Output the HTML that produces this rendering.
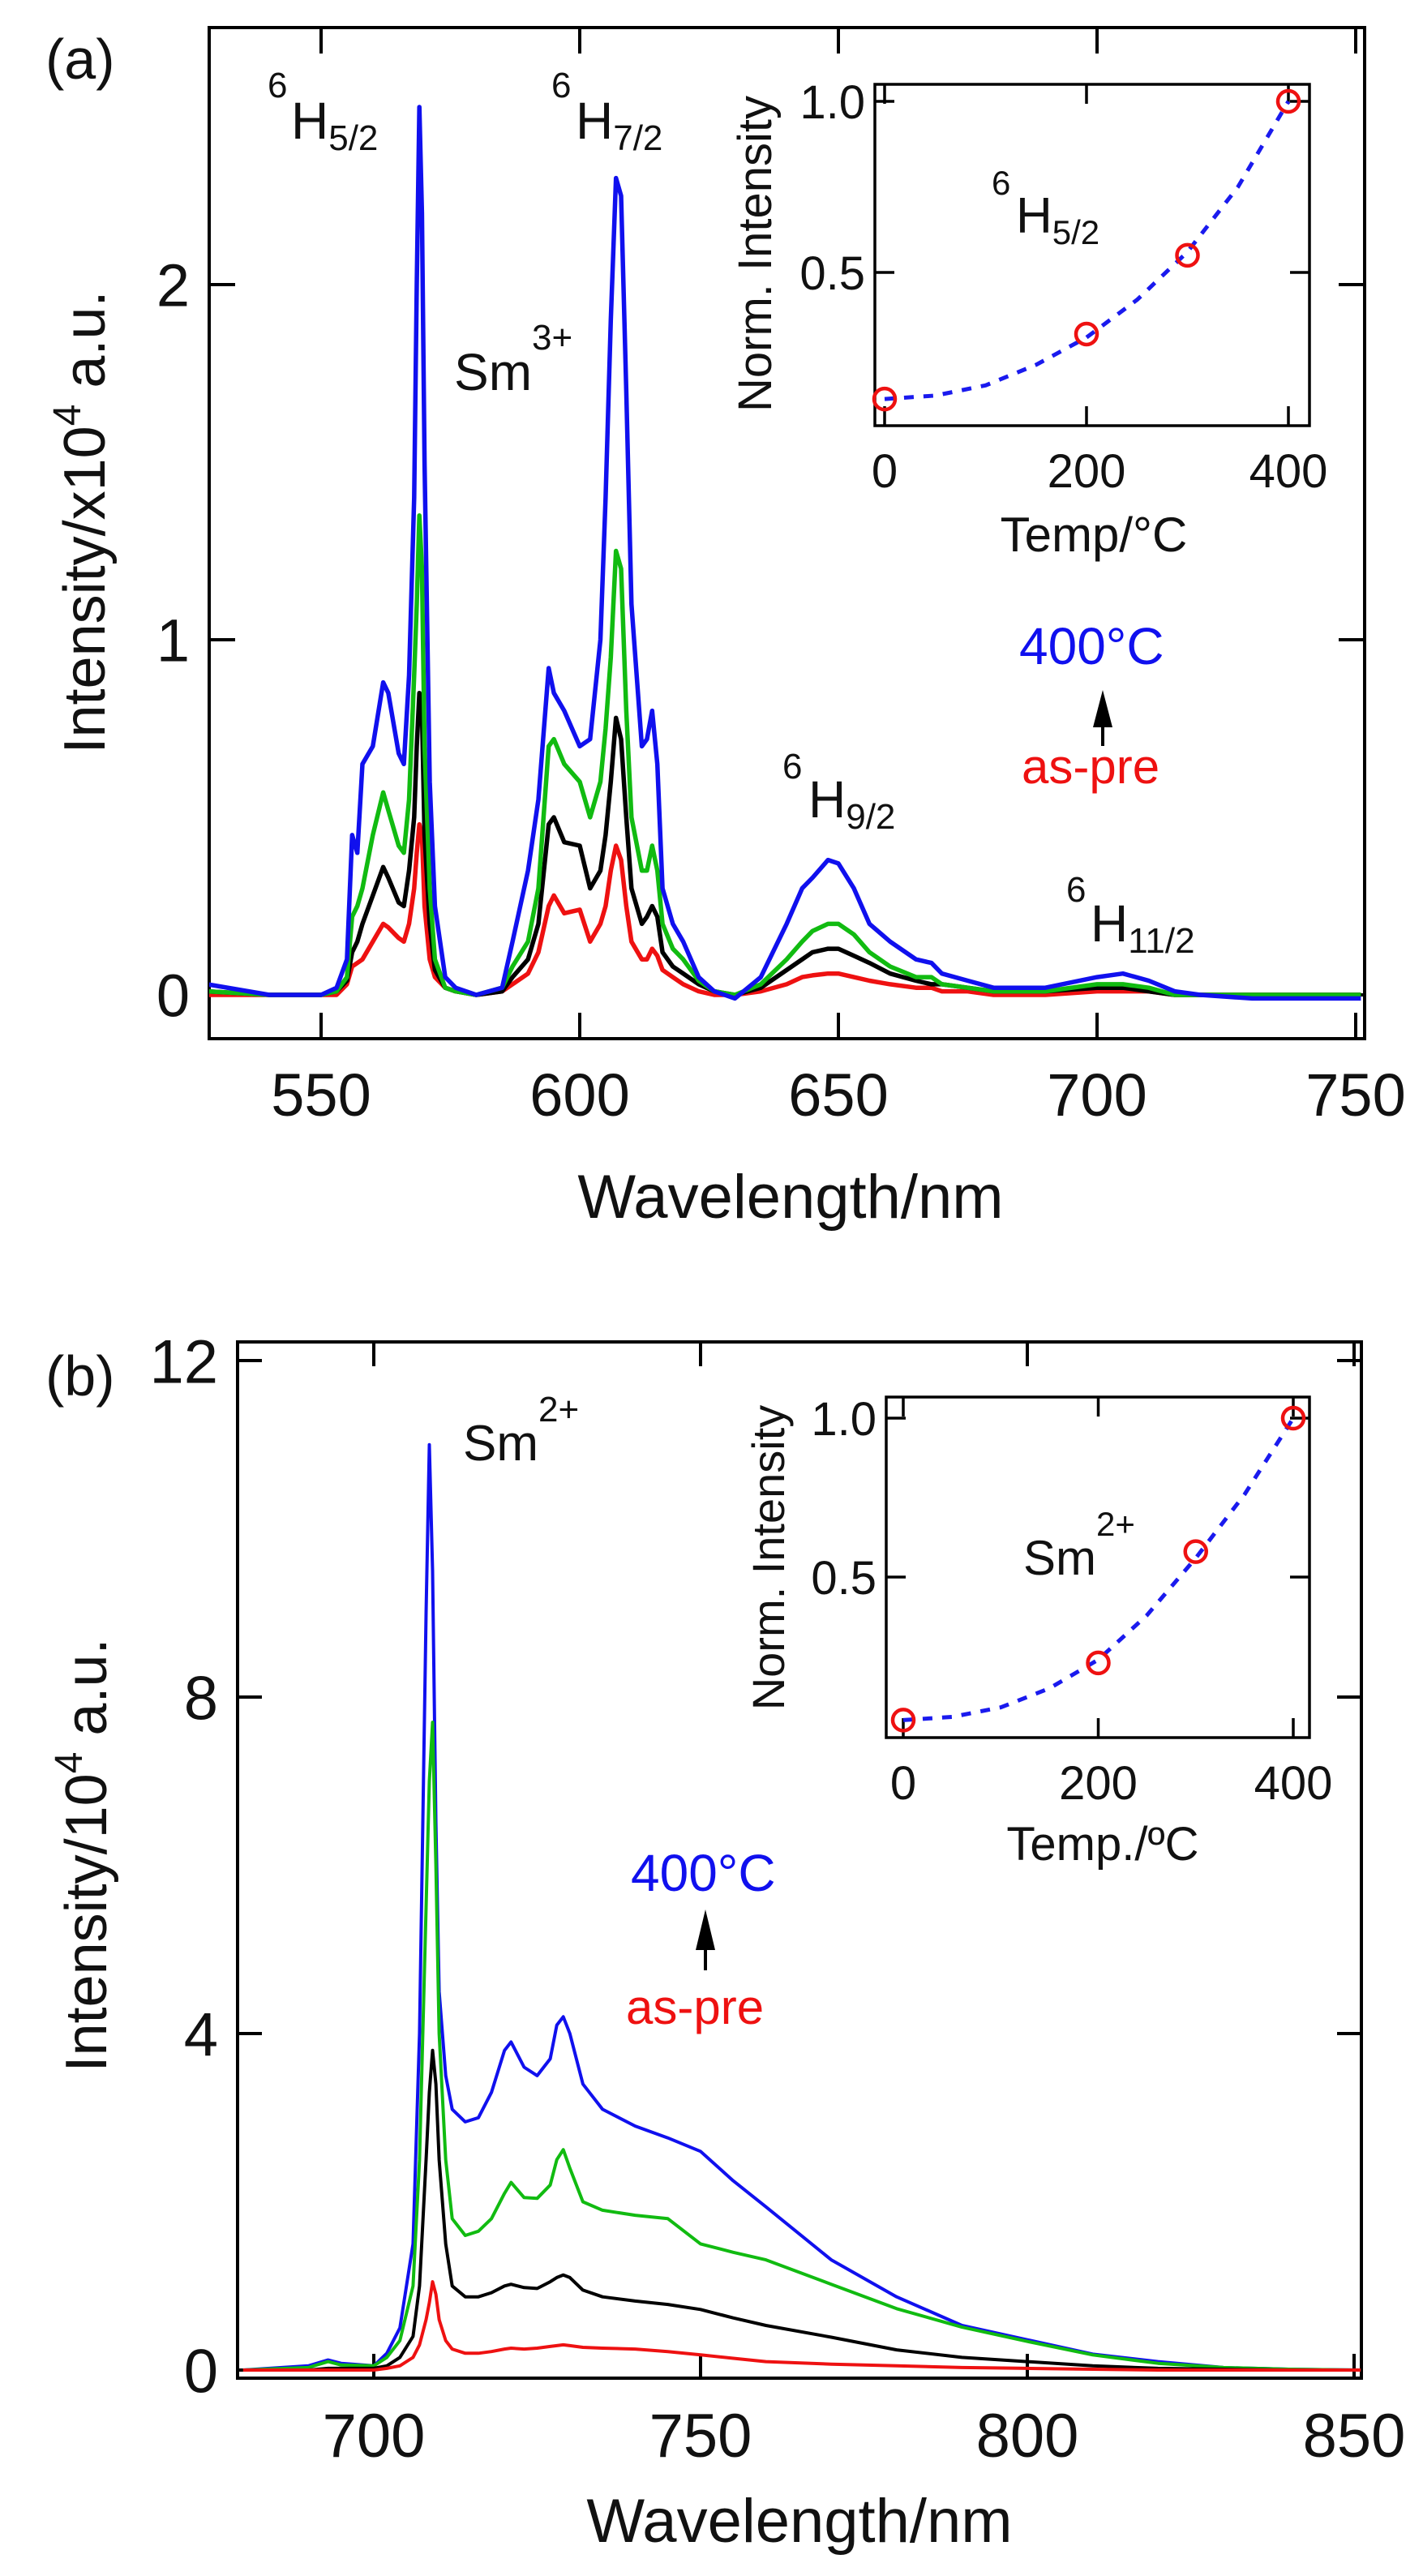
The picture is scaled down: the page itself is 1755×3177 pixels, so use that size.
<!DOCTYPE html>
<html>
<head>
<meta charset="utf-8">
<style>
html,body{margin:0;padding:0;background:#fff;}
svg{display:block;}
text{font-family:"Liberation Sans",Arial,sans-serif;fill:#111;}
</style>
</head>
<body>
<svg id="fig" width="1755" height="3177" viewBox="0 0 1755 3177" xmlns="http://www.w3.org/2000/svg">
  <rect x="0" y="0" width="1755" height="3177" fill="#fff"/>
  <g id="panelA"></g>
  <g id="panelB"></g>

  <!-- Panel A texts -->
  <text x="56" y="97" font-size="70">(a)</text>
  <text x="1" y="1" font-size="72" text-anchor="middle" transform="translate(128,645) rotate(-90)">Intensity/x10<tspan dy="-30" font-size="48">4</tspan><tspan dy="30"> a.u.</tspan></text>
  <text x="975" y="1502" font-size="76" text-anchor="middle">Wavelength/nm</text>
  <text x="330" y="120" font-size="44">6</text>
  <text x="359" y="171" font-size="64">H<tspan dy="14" font-size="44">5/2</tspan></text>
  <text x="680" y="120" font-size="44">6</text>
  <text x="710" y="171" font-size="64">H<tspan dy="14" font-size="44">7/2</tspan></text>
  <text x="560" y="481" font-size="64">Sm<tspan dy="-50" font-size="44">3+</tspan></text>
  <text x="965" y="960" font-size="44">6</text>
  <text x="997" y="1008" font-size="64">H<tspan dy="14" font-size="44">9/2</tspan></text>
  <text x="1315" y="1112" font-size="44">6</text>
  <text x="1345" y="1161" font-size="64">H<tspan dy="14" font-size="44">11/2</tspan></text>
  <text x="1257" y="819" font-size="64" style="fill:#1010ee">400°C</text>
  <text x="1260" y="966" font-size="60" style="fill:#ee1111">as-pre</text>
  <line x1="1360" y1="920" x2="1360" y2="870" stroke="#000" stroke-width="4"/>
  <polygon points="1348,897 1372,897 1360,851" fill="#000"/>
  <!-- inset A -->
  <text x="1" y="1" font-size="58" text-anchor="middle" transform="translate(950,314) rotate(-90)">Norm. Intensity</text>
  <text x="1349" y="680" font-size="60" text-anchor="middle">Temp/°C</text>
  <text x="1223" y="240" font-size="42">6</text>
  <text x="1253" y="287" font-size="62">H<tspan dy="14" font-size="42">5/2</tspan></text>

  <!-- Panel B texts -->
  <text x="56" y="1721" font-size="70">(b)</text>
  <text x="1" y="1" font-size="72" text-anchor="middle" transform="translate(130,2289) rotate(-90)">Intensity/10<tspan dy="-30" font-size="48">4</tspan><tspan dy="30"> a.u.</tspan></text>
  <text x="986" y="3135" font-size="76" text-anchor="middle">Wavelength/nm</text>
  <text x="571" y="1801" font-size="62">Sm<tspan dy="-48" font-size="44">2+</tspan></text>
  <text x="778" y="2332" font-size="64" style="fill:#1010ee">400°C</text>
  <text x="772" y="2496" font-size="60" style="fill:#ee1111">as-pre</text>
  <line x1="870" y1="2430" x2="870" y2="2380" stroke="#000" stroke-width="4"/>
  <polygon points="858,2405 882,2405 870,2355" fill="#000"/>
  <text x="1" y="1" font-size="56" text-anchor="middle" transform="translate(966,1922) rotate(-90)">Norm. Intensity</text>
  <text x="1360" y="2294" font-size="58" text-anchor="middle">Temp./ºC</text>
  <text x="1262" y="1942" font-size="60">Sm<tspan dy="-48" font-size="42">2+</tspan></text>
</svg>
<script>
// ---------- Panel A data (Sm3+) ----------
const aWave = [528,540,550,553,555,556,557,558,560,562,563,565,566,567,568,568.5,569,569.5,570,571,572,574,576,580,585,587,590,592,594,595,597,600,602,604,605,606,607,608,609,610,612,613,614,615,616,618,620,623,626,630,635,640,643,645,648,650,653,656,660,665,668,670,675,680,690,700,705,710,715,720,730,740,751];
const aBlue = [0.03,0,0,0.02,0.1,0.45,0.4,0.65,0.7,0.88,0.85,0.68,0.65,0.9,1.4,2.0,2.5,2.2,1.5,0.6,0.25,0.05,0.02,0,0.02,0.15,0.35,0.55,0.92,0.85,0.8,0.7,0.72,1.0,1.4,1.9,2.3,2.25,1.7,1.1,0.7,0.72,0.8,0.65,0.3,0.2,0.15,0.05,0.01,-0.01,0.05,0.2,0.3,0.33,0.38,0.37,0.3,0.2,0.15,0.1,0.09,0.06,0.04,0.02,0.02,0.05,0.06,0.04,0.01,0,-0.01,-0.01,-0.01];
const aGreen = [0.01,0,0,0.01,0.05,0.22,0.25,0.3,0.45,0.57,0.52,0.42,0.4,0.55,0.9,1.1,1.35,1.2,0.7,0.3,0.1,0.02,0.01,0,0.02,0.08,0.15,0.3,0.7,0.72,0.65,0.6,0.5,0.6,0.75,0.95,1.25,1.2,0.8,0.5,0.35,0.35,0.42,0.35,0.2,0.13,0.1,0.04,0.01,0,0.03,0.1,0.15,0.18,0.2,0.2,0.17,0.12,0.08,0.05,0.05,0.03,0.02,0.01,0.01,0.03,0.03,0.02,0,0,0,0,0];
const aBlack = [0.01,0,0,0.01,0.04,0.12,0.15,0.2,0.28,0.36,0.33,0.26,0.25,0.35,0.5,0.7,0.85,0.8,0.45,0.2,0.07,0.02,0.01,0,0.01,0.05,0.1,0.2,0.48,0.5,0.43,0.42,0.3,0.35,0.45,0.6,0.78,0.72,0.5,0.3,0.2,0.22,0.25,0.22,0.12,0.08,0.06,0.03,0.01,0,0.02,0.07,0.1,0.12,0.13,0.13,0.11,0.09,0.06,0.04,0.03,0.03,0.02,0.01,0.01,0.02,0.02,0.01,0,0,0,0,0];
const aRed = [0,0,0,0,0.03,0.08,0.09,0.1,0.15,0.2,0.19,0.16,0.15,0.2,0.3,0.4,0.48,0.45,0.25,0.1,0.05,0.02,0.01,0,0.01,0.03,0.06,0.12,0.25,0.28,0.23,0.24,0.15,0.2,0.25,0.35,0.42,0.38,0.25,0.15,0.1,0.1,0.13,0.11,0.07,0.05,0.03,0.01,0,0,0.01,0.03,0.05,0.055,0.06,0.06,0.05,0.04,0.03,0.02,0.02,0.01,0.01,0,0,0.01,0.01,0.01,0,0,0,0,0];
const aXTicks = [550,600,650,700,750];
const aYTicks = [0,1,2];
const aInsetTemp = [0,200,300,400];
const aInsetVal = [0.13,0.32,0.55,1.0];
const aFitTemp = [0,50,100,150,200,250,300,350,400];
const aFitVal = [0.13,0.14,0.17,0.23,0.31,0.42,0.56,0.75,1.0];
const insetXTicks = [0,200,400];
const insetYTicks = [0.5,1.0];
const insetYLabels = ["0.5","1.0"];

// ---------- Panel B data (Sm2+) ----------
const bWave = [680,690,693,695,700,702,704,706,707,708,708.5,709,709.5,710,711,712,714,716,718,720,721,723,725,727,728,729,730,732,735,740,745,750,755,760,770,780,790,800,810,820,830,840,851];
const bBlue = [0,0.05,0.12,0.08,0.05,0.2,0.5,1.5,4.0,9.0,11.0,9.5,6.5,4.5,3.5,3.1,2.95,3.0,3.3,3.8,3.9,3.6,3.5,3.7,4.1,4.2,4.0,3.4,3.1,2.9,2.76,2.6,2.25,1.94,1.31,0.87,0.53,0.36,0.19,0.1,0.03,0.01,0];
const bGreen = [0,0.03,0.1,0.06,0.05,0.15,0.35,1.0,2.5,5.5,7.0,7.7,6.0,4.0,2.5,1.8,1.6,1.65,1.8,2.1,2.23,2.05,2.04,2.2,2.5,2.62,2.4,2.0,1.9,1.84,1.8,1.5,1.4,1.31,1.02,0.73,0.51,0.34,0.18,0.08,0.03,0.01,0];
const bBlack = [0,0,0.02,0.02,0.02,0.05,0.15,0.4,1.0,2.5,3.3,3.8,3.4,2.5,1.5,1.0,0.87,0.87,0.92,1.0,1.02,0.98,0.97,1.05,1.1,1.13,1.1,0.95,0.87,0.82,0.78,0.72,0.62,0.53,0.39,0.24,0.15,0.1,0.05,0.02,0.01,0,0];
const bRed = [0,0,0,0,0,0.02,0.05,0.15,0.3,0.6,0.8,1.05,0.9,0.6,0.35,0.25,0.2,0.2,0.22,0.25,0.26,0.25,0.26,0.28,0.29,0.3,0.29,0.27,0.26,0.25,0.22,0.18,0.14,0.1,0.07,0.05,0.03,0.02,0.01,0,0,0,0];
const bXTicks = [700,750,800,850];
const bYTicks = [0,4,8,12];
const bInsetTemp = [0,200,300,400];
const bInsetVal = [0.05,0.23,0.58,1.0];
const bFitTemp = [0,50,100,150,200,250,300,350,400];
const bFitVal = [0.05,0.06,0.09,0.15,0.24,0.38,0.56,0.76,1.0];

const NS = "http://www.w3.org/2000/svg";
function mk(parent, tag, attrs){
  const e = document.createElementNS(NS, tag);
  for (const k in attrs) e.setAttribute(k, attrs[k]);
  parent.appendChild(e);
  return e;
}
function lin(d0,d1,r0,r1){ return v => r0 + (v-d0)*(r1-r0)/(d1-d0); }

function drawFrame(g, box, sx, sy, xt, yt, xl, yl, tickLen, sw, fs, labelDy, labelDx, name){
  const r = mk(g,'rect',{x:box.l,y:box.t,width:box.r-box.l,height:box.b-box.t,fill:'none',stroke:'#000','stroke-width':sw});
  
  
  xt.forEach((v,i)=>{
    const x = sx(v);
    const t1 = mk(g,'line',{x1:x,y1:box.b,x2:x,y2:box.b-tickLen,stroke:'#000','stroke-width':sw});
    
    
    const t2 = mk(g,'line',{x1:x,y1:box.t,x2:x,y2:box.t+tickLen,stroke:'#000','stroke-width':sw});
    
    
    const lb = mk(g,'text',{x:x,y:box.b+labelDy,'font-size':fs,'text-anchor':'middle'});
    lb.textContent = xl[i];
    
    
  });
  yt.forEach((v,i)=>{
    const y = sy(v);
    const t1 = mk(g,'line',{x1:box.l,y1:y,x2:box.l+tickLen,y2:y,stroke:'#000','stroke-width':sw});
    
    
    const t2 = mk(g,'line',{x1:box.r,y1:y,x2:box.r-tickLen,y2:y,stroke:'#000','stroke-width':sw});
    
    
    const lb = mk(g,'text',{x:box.l-labelDx,y:y+fs*0.36,'font-size':fs,'text-anchor':'end'});
    lb.textContent = yl[i];
    
    
  });
}
function drawLine(g, xs, ys, sx, sy, color, w, name, clip){
  const d = xs.map((x,i)=>(i?'L':'M')+sx(x).toFixed(1)+','+sy(ys[i]).toFixed(1)).join(' ');
  const p = mk(g,'path',{d:d,fill:'none',stroke:color,'stroke-width':w,'stroke-linejoin':'round'});
  if (clip) p.setAttribute('clip-path', clip);
  
  
  return p;
}
function drawInset(g, box, xs, ys, fx, fy, name){
  const sx = lin(0,400,box.x0,box.x400);
  const sy = lin(0.5,1.0,box.y05,box.y10);
  mk(g,'rect',{x:box.l,y:box.t,width:box.r-box.l,height:box.b-box.t,fill:'#fff',stroke:'none'});
  drawFrame(g, box, sx, sy, insetXTicks, insetYTicks, insetXTicks.map(String), insetYLabels, 24, 3.5, 58, 76, 12, name);
  const fl = drawLine(g, fx, fy, sx, sy, '#1a1aee', 5, name+'-fit-line');
  fl.setAttribute('stroke-dasharray','12,12');
  xs.forEach((t,i)=>{
    const c = mk(g,'circle',{cx:sx(t),cy:sy(ys[i]),r:13,fill:'none',stroke:'#ee1111','stroke-width':4.5});
    
    
  });
}

// Panel A
(function(){
  const g = document.getElementById('panelA');
  const box = {l:258,r:1683,t:34,b:1281};
  const sx = lin(550,600,396,715);
  const sy = lin(0,1,1227,789);
  const defs = mk(g,'defs',{});
  const cp = mk(defs,'clipPath',{id:'clipA'});
  mk(cp,'rect',{x:box.l,y:box.t,width:box.r-box.l,height:box.b-box.t});
  drawFrame(g, box, sx, sy, aXTicks, aYTicks, aXTicks.map(String), aYTicks.map(String), 32, 4, 74, 95, 24, 'panel-a');
  drawLine(g, aWave, aRed, sx, sy, '#ee1111', 5.5, 'series-a-as-pre', 'url(#clipA)');
  drawLine(g, aWave, aBlack, sx, sy, '#000000', 5.5, 'series-a-200c', 'url(#clipA)');
  drawLine(g, aWave, aGreen, sx, sy, '#11bb11', 5.5, 'series-a-300c', 'url(#clipA)');
  drawLine(g, aWave, aBlue, sx, sy, '#1010ee', 5.5, 'series-a-400c', 'url(#clipA)');
  const ig = mk(g,'g',{});
  
  
  drawInset(ig, {l:1079,r:1615,t:104,b:525,x0:1091,x400:1589,y05:336,y10:125}, aInsetTemp, aInsetVal, aFitTemp, aFitVal, 'inset-a');
})();

// Panel B
(function(){
  const g = document.getElementById('panelB');
  const box = {l:293,r:1679,t:1655,b:2933};
  const sx = lin(700,750,461,864);
  const sy = lin(0,12,2923,1678);
  const defs = mk(g,'defs',{});
  const cp = mk(defs,'clipPath',{id:'clipB'});
  mk(cp,'rect',{x:box.l,y:box.t,width:box.r-box.l,height:box.b-box.t});
  drawFrame(g, box, sx, sy, bXTicks, bYTicks, bXTicks.map(String), bYTicks.map(String), 30, 4, 76, 97, 24, 'panel-b');
  drawLine(g, bWave, bBlue, sx, sy, '#1010ee', 4, 'series-b-400c', 'url(#clipB)');
  drawLine(g, bWave, bGreen, sx, sy, '#11bb11', 4, 'series-b-300c', 'url(#clipB)');
  drawLine(g, bWave, bBlack, sx, sy, '#000000', 4, 'series-b-200c', 'url(#clipB)');
  drawLine(g, bWave, bRed, sx, sy, '#ee1111', 4, 'series-b-as-pre', 'url(#clipB)');
  const ig = mk(g,'g',{});
  
  
  drawInset(ig, {l:1093,r:1615,t:1723,b:2143,x0:1114,x400:1595,y05:1945,y10:1749}, bInsetTemp, bInsetVal, bFitTemp, bFitVal, 'inset-b');
})();
</script>
</body>
</html>
